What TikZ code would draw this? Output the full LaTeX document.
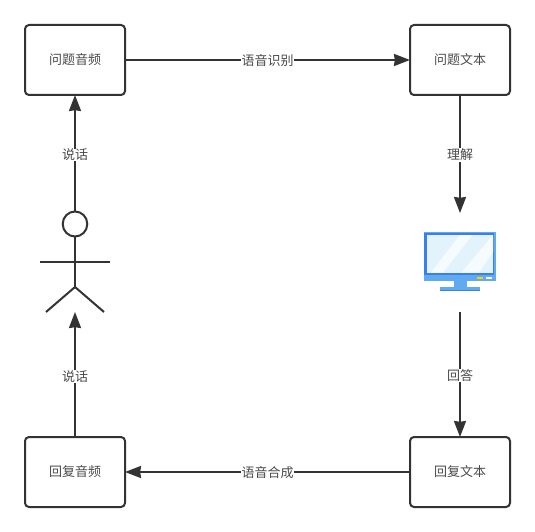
\documentclass[tikz,border=0pt]{standalone}
\usepackage{fontspec}
\setmainfont{Noto Sans CJK SC}
\usetikzlibrary{arrows.meta,positioning}
\definecolor{ink}{HTML}{333333}
\definecolor{inktext}{HTML}{4A4A4A}
\definecolor{pcdark}{HTML}{3A7FEF}
\definecolor{pclight}{HTML}{60AAF2}
\definecolor{pcscreen}{HTML}{E3F3FC}
\definecolor{pcstripe}{HTML}{F6FBFF}
\tikzset{
  x=1pt,y=-1pt,
  flowbox/.style={draw=ink,line width=2pt,rounded corners=4pt,fill=white,minimum width=100pt,minimum height=70pt,inner sep=0pt,outer sep=0pt,text=inktext,font=\fontsize{13}{13}\selectfont},
  holder/.style={inner sep=0pt,outer sep=0pt,draw=none},
  link/.style={draw=ink,line width=2pt,-{Stealth[length=16pt,width=12pt,inset=0.8pt]}},
  linklabel/.style={fill=white,inner sep=0.5pt,text=inktext,font=\fontsize{13}{13}\selectfont},
  figureline/.style={draw=ink,line width=2pt}
}
\begin{document}
\begin{tikzpicture}
\useasboundingbox (0,0) rectangle (535,532);
\fill[white] (0,0) rectangle (535,532);
\node[flowbox] (qa) at (75,60) {\raisebox{-0.7pt}{问题音频}};
\node[flowbox] (qt) at (460,60) {\raisebox{-0.7pt}{问题文本}};
\node[flowbox] (ra) at (75,472) {\raisebox{-0.7pt}{回复音频}};
\node[flowbox] (rt) at (460,472) {\raisebox{-0.7pt}{回复文本}};
\node[holder,minimum width=72pt,minimum height=99pt] (pc) at (460,262.5) {};
\node[holder,minimum width=70pt,minimum height=101pt] (actor) at (75,261.5) {};
% monitor
\fill[pclight] (424,232) rectangle (496,281);
\fill[pclight] (453.5,281) rectangle (466.5,287);
\fill[pclight] (440,287) rectangle (480,291);
\fill[pcdark] (424,233) rectangle (494,275);
\fill[pcscreen] (426.5,235) rectangle (493,272.5);
\fill[pcstripe] (431,272.5) -- (443,272.5) -- (472.5,235) -- (460,235) -- cycle;
\fill[pcstripe] (461.5,272.5) -- (479,272.5) -- (493,252) -- (493,235) -- cycle;
\fill[pcdark] (424,272.5) rectangle (494,275);
\fill[pclight] (424,275) rectangle (496,281);
\fill[pcdark] (440,290) rectangle (480,291);
\fill[yellow!70!orange] (477,277) rectangle (483,279);
\fill[pcstripe] (486,277) rectangle (492,279);
% actor
\draw[figureline] (75,224) ellipse [x radius=12.3,y radius=12.5];
\draw[figureline] (75,236.5) -- (75,287);
\draw[figureline] (40,262) -- (110,262);
\draw[figureline] (46,312) -- (75,287) -- (104,312);
% connectors
\draw[link] (qa) -- node[linklabel,yshift=-0.5pt] {语音识别} (qt);
\draw[link] (qt) -- node[linklabel,yshift=-1pt] {理解} (pc);
\draw[link] (pc) -- node[linklabel,yshift=-1pt] {回答} (rt);
\draw[link] (rt) -- node[linklabel,yshift=-0.5pt] {语音合成} (ra);
\draw[link] (ra) -- node[linklabel,yshift=-2pt] {说话} (actor);
\draw[link] (actor) -- node[linklabel,yshift=-2pt] {说话} (qa);
\end{tikzpicture}
\end{document}
